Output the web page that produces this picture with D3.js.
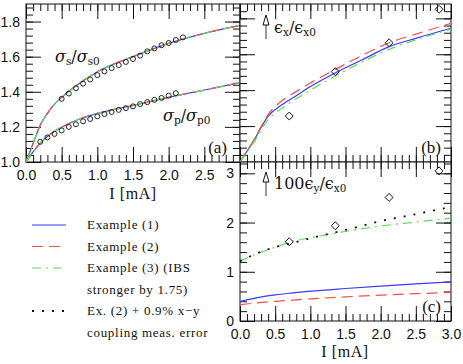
<!DOCTYPE html>
<html>
<head>
<meta charset="utf-8">
<script src="https://cdn.jsdelivr.net/npm/d3@7"></script>
<style>
  body { margin: 0; background: #fff; }
  svg { display: block; }
</style>
</head>
<body>
<div id="viz"></div>
<script>
(function() {
  // ---- panel (a): bunch length / energy spread growth ----
  var iA = [0, 0.1, 0.2, 0.3, 0.4, 0.5, 0.75, 1.0, 1.5, 2.0, 2.5, 3.0];
  var sigS = [1.0, 1.106, 1.211, 1.277, 1.330, 1.368, 1.448, 1.514, 1.600, 1.676, 1.733, 1.778];
  var sigP = [1.0, 1.058, 1.108, 1.145, 1.175, 1.198, 1.245, 1.277, 1.322, 1.368, 1.410, 1.452];

  var measSI = [0.5, 0.6, 0.7, 0.8, 0.9, 1.0, 1.1, 1.2, 1.3, 1.4, 1.5, 1.6, 1.7, 1.8, 1.9, 2.0, 2.1, 2.2];
  var measS = [1.360, 1.390, 1.420, 1.446, 1.470, 1.495, 1.516, 1.535, 1.552, 1.570, 1.587, 1.606, 1.630, 1.647, 1.665, 1.678, 1.695, 1.710];
  var measPI = [0.2, 0.3, 0.4, 0.5, 0.6, 0.7, 0.8, 0.9, 1.0, 1.1, 1.2, 1.3, 1.4, 1.5, 1.6, 1.7, 1.8, 1.9, 2.0, 2.1];
  var measP = [1.115, 1.140, 1.160, 1.180, 1.200, 1.215, 1.232, 1.245, 1.260, 1.273, 1.285, 1.297, 1.307, 1.317, 1.330, 1.341, 1.354, 1.365, 1.378, 1.392];

  // ---- panel (b): horizontal emittance ----
  var iB = [0, 0.2, 0.4, 0.6, 0.8, 1.0, 1.36, 1.73, 2.12, 2.5, 3.0];
  var exEx1 = [1.0, 1.153, 1.320, 1.400, 1.462, 1.525, 1.622, 1.710, 1.803, 1.861, 1.931];
  var exEx2 = [1.0, 1.155, 1.330, 1.428, 1.490, 1.550, 1.645, 1.740, 1.830, 1.890, 1.965];
  var exEx3 = [1.0, 1.140, 1.295, 1.375, 1.440, 1.500, 1.600, 1.695, 1.785, 1.850, 1.925];

  // ---- panel (c): vertical emittance ----
  var iC = [0, 0.25, 0.5, 0.75, 1.0, 1.5, 2.0, 2.5, 3.0];
  var eyEx1 = [0.40, 0.475, 0.53, 0.57, 0.605, 0.66, 0.71, 0.755, 0.795];
  var eyEx2 = [0.33, 0.37, 0.40, 0.425, 0.45, 0.49, 0.525, 0.555, 0.58];
  var eyEx3 = [1.215, 1.37, 1.50, 1.62, 1.69, 1.82, 1.93, 2.01, 2.09];
  var eyCoup = [1.215, 1.38, 1.50, 1.59, 1.68, 1.85, 2.03, 2.17, 2.32];

  var measEI = [0.70, 1.355, 2.12, 2.83];
  var measEx = [1.32, 1.629, 1.830, 2.063];
  var measEy = [1.61, 1.935, 2.51, 3.05];

  var legendLabels = ["Example (1)", "Example (2)", "Example (3) (IBS", "stronger by 1.75)", "Ex. (2) + 0.9% x\u2212y", "coupling meas. error"];
  // (a) stops at 2.5: its "3.0" is hidden under panel (c), whose "3" sits at the same spot
  var xTickLabelsA = ["0.0", "0.5", "1.0", "1.5", "2.0", "2.5", ""];
  var xTickLabelsC = ["0.0", "0.5", "1.0", "1.5", "2.0", "2.5", "3.0"];

  var blue = "#3a3aff", red = "#ff4a4a", green = "#55e055";
  var tickFont = "'Liberation Sans', Arial, sans-serif";
  var serif = "'DejaVu Serif', serif";
  var roman = "'Liberation Serif', 'Times New Roman', serif";

  var svg = d3.select("#viz").append("svg").attr("width", 463).attr("height", 364);

  var xA = d3.scaleLinear().domain([0, 3]).range([26, 240]);
  var yA = d3.scaleLinear().domain([1.0, 1.9]).range([162, 4]);
  var xB = d3.scaleLinear().domain([0, 3]).range([240, 451]);
  var yB = d3.scaleLinear().domain([1.0, 2.1]).range([162, 4]);
  var yC = d3.scaleLinear().domain([0, 3.23]).range([321, 162]);

  var xMajor = d3.range(0, 3.001, 0.5), xMinor = d3.range(0, 3.001, 0.1);

  var addAxis = function(g, axis, tx, ty, vals, len, fmt, pad) {
    var a = g.append("g").attr("transform", "translate(" + tx + "," + ty + ")")
      .call(axis.tickValues(vals).tickSize(-len).tickPadding(pad || 3)
        .tickFormat(fmt || function() { return ""; }));
    a.select(".domain").remove();
    a.selectAll("line").attr("stroke", "#111").attr("stroke-width", 1);
    a.selectAll("text").attr("font-family", tickFont).attr("font-size", 14).attr("fill", "#111");
    return a;
  };

  var frame = function(g, xs, ys, yMaj, yMin, opt) {
    var xr = xs.range(), yr = ys.range();
    var L = 15, l = 7;
    // bottom
    addAxis(g, d3.axisBottom(xs), 0, yr[0], xMinor, l);
    addAxis(g, d3.axisBottom(xs), 0, yr[0], xMajor, L, opt.xFmt, 8);
    // top
    addAxis(g, d3.axisTop(xs), 0, yr[1], xMinor, l);
    addAxis(g, d3.axisTop(xs), 0, yr[1], xMajor, L);
    // left
    addAxis(g, d3.axisLeft(ys), xr[0], 0, yMin, l);
    addAxis(g, d3.axisLeft(ys), xr[0], 0, yMaj, L, opt.yFmt, 6);
    // right
    addAxis(g, d3.axisRight(ys), xr[1], 0, yMin, l);
    addAxis(g, d3.axisRight(ys), xr[1], 0, yMaj, L);
    g.append("rect").attr("x", xr[0]).attr("y", yr[1])
      .attr("width", xr[1] - xr[0]).attr("height", yr[0] - yr[1])
      .attr("fill", "none").attr("stroke", "#111").attr("stroke-width", 1);
  };

  var drawLine = function(g, xs, ys, xv, yv, color, dash, width) {
    var pts = xv.map(function(d, i) { return [d, yv[i]]; });
    var line = d3.line().curve(d3.curveMonotoneX)
      .x(function(d) { return xs(d[0]); }).y(function(d) { return ys(d[1]); });
    g.append("path").attr("d", line(pts)).attr("fill", "none")
      .attr("stroke", color).attr("stroke-width", width || 1.2)
      .attr("stroke-dasharray", dash || null);
  };

  var dashRed = "11,6", dashGreen = "9,5,2,5", dashDot = "2,8";

  // ================= panel (a) =================
  var gA = svg.append("g");
  frame(gA, xA, yA, d3.range(1.0, 1.801, 0.2), d3.range(1.0, 1.881, 0.04), {
    xFmt: function(d) { return xTickLabelsA[Math.round(d * 2)]; },
    yFmt: d3.format(".1f")
  });
  [sigS, sigP].forEach(function(s) {
    drawLine(gA, xA, yA, iA, s, blue);
    drawLine(gA, xA, yA, iA, s, red, dashRed);
    drawLine(gA, xA, yA, iA, s, green, dashGreen);
  });
  gA.selectAll("circle.s").data(measSI).enter().append("circle")
    .attr("cx", function(d) { return xA(d); })
    .attr("cy", function(d, i) { return yA(measS[i]); })
    .attr("r", 2.5).attr("fill", "none").attr("stroke", "#111").attr("stroke-width", 0.9);
  gA.selectAll("circle.p").data(measPI).enter().append("circle")
    .attr("cx", function(d) { return xA(d); })
    .attr("cy", function(d, i) { return yA(measP[i]); })
    .attr("r", 2.5).attr("fill", "none").attr("stroke", "#111").attr("stroke-width", 0.9);

  var ratioLabel = function(g, x, y, sym, sub, sub0, italic) {
    var t = g.append("text").attr("x", x).attr("y", y).attr("font-family", serif).attr("fill", "#111");
    t.append("tspan").attr("font-size", 16).attr("font-style", italic ? "italic" : null).text(sym);
    t.append("tspan").attr("font-size", 10.5).attr("dy", 3).text(sub);
    t.append("tspan").attr("font-size", 16).attr("dy", -3).text("/");
    t.append("tspan").attr("font-size", 16).attr("font-style", italic ? "italic" : null).text(sym);
    t.append("tspan").attr("font-size", 10.5).attr("dy", 3).text(sub0);
    return t;
  };
  ratioLabel(gA, 55, 62, "\u03c3", "s", "s0", true);
  ratioLabel(gA, 163, 121, "\u03c3", "p", "p0", true);
  gA.append("text").attr("x", 227).attr("y", 153).attr("text-anchor", "end")
    .attr("font-family", roman).attr("font-size", 17).attr("fill", "#111").text("(a)");
  gA.append("text").attr("x", 133).attr("y", 199).attr("text-anchor", "middle")
    .attr("font-family", roman).attr("font-size", 16).attr("letter-spacing", 0.6)
    .attr("fill", "#111").text("I [mA]");

  // ================= panel (b) =================
  var gB = svg.append("g");
  gB.append("rect").attr("x", 240).attr("y", 4).attr("width", 211).attr("height", 158).attr("fill", "#fff");
  frame(gB, xB, yB, d3.range(1.0, 2.001, 0.25), d3.range(1.0, 2.051, 0.05), {});
  drawLine(gB, xB, yB, iB, exEx1, blue);
  drawLine(gB, xB, yB, iB, exEx2, red, dashRed);
  drawLine(gB, xB, yB, iB, exEx3, green, dashGreen);

  // ================= panel (c) =================
  var gC = svg.append("g");
  gC.append("rect").attr("x", 240).attr("y", 162).attr("width", 223).attr("height", 159).attr("fill", "#fff");
  frame(gC, xB, yC, [0, 1, 2, 3], d3.range(0, 3.21, 0.2), {
    xFmt: function(d) { return xTickLabelsC[Math.round(d * 2)]; },
    yFmt: d3.format("d")
  });
  drawLine(gC, xB, yC, iC, eyEx1, blue);
  drawLine(gC, xB, yC, iC, eyEx2, red, dashRed);
  drawLine(gC, xB, yC, iC, eyEx3, green, dashGreen);
  drawLine(gC, xB, yC, iC, eyCoup, "#111", dashDot, 1.8);

  var diamonds = function(g, ys, vals) {
    g.selectAll("path.dia").data(measEI).enter().append("path")
      .attr("d", d3.symbol().type(d3.symbolDiamond2).size(40))
      .attr("transform", function(d, i) { return "translate(" + xB(d) + "," + ys(vals[i]) + ")"; })
      .attr("fill", "none").attr("stroke", "#111").attr("stroke-width", 1);
  };
  diamonds(gB, yB, measEx);
  diamonds(gC, yC, measEy);

  var arrow = function(g, x, yTop) {
    g.append("line").attr("x1", x).attr("x2", x).attr("y1", yTop + 10).attr("y2", yTop + 24)
      .attr("stroke", "#777").attr("stroke-width", 1.5);
    g.append("path").attr("d", "M" + (x - 3) + "," + (yTop + 10) + "L" + x + "," + yTop + "L" + (x + 3) + "," + (yTop + 10) + "Z")
      .attr("fill", "#fff").attr("stroke", "#111").attr("stroke-width", 1);
  };
  arrow(gB, 266, 15);
  arrow(gC, 266, 172);

  var epsLabel = function(g, x, y, pre, sub) {
    var t = g.append("text").attr("x", x).attr("y", y).attr("font-family", serif).attr("fill", "#111");
    t.append("tspan").attr("font-size", 16).text(pre + "\u03f5");
    t.append("tspan").attr("font-size", 10.5).attr("dy", 3).text(sub);
    t.append("tspan").attr("font-size", 16).attr("dy", -3).text("/\u03f5");
    t.append("tspan").attr("font-size", 10.5).attr("dy", 3).text("x0");
  };
  epsLabel(gB, 274, 33, "", "x");
  epsLabel(gC, 274, 189, "100", "y");

  gB.append("text").attr("x", 441).attr("y", 153).attr("text-anchor", "end")
    .attr("font-family", roman).attr("font-size", 17).attr("fill", "#111").text("(b)");
  gC.append("text").attr("x", 441).attr("y", 312).attr("text-anchor", "end")
    .attr("font-family", roman).attr("font-size", 17).attr("fill", "#111").text("(c)");
  gC.append("text").attr("x", 345).attr("y", 357).attr("text-anchor", "middle")
    .attr("font-family", roman).attr("font-size", 16).attr("letter-spacing", 0.6)
    .attr("fill", "#111").text("I [mA]");

  // ================= legend =================
  var gL = svg.append("g");
  var rowY = [225, 246.5, 268, 289.5, 311, 332.5];
  var legendLines = [[0, blue, null, 1.2], [1, red, dashRed, 1.2], [2, green, dashGreen, 1.2], [4, "#111", dashDot, 1.8]];
  legendLines.forEach(function(d) {
    gL.append("line").attr("x1", 32).attr("x2", 66).attr("y1", rowY[d[0]]).attr("y2", rowY[d[0]])
      .attr("stroke", d[1]).attr("stroke-width", d[3]).attr("stroke-dasharray", d[2]);
  });
  gL.selectAll("text").data(legendLabels).enter().append("text")
    .attr("x", 87).attr("y", function(d, i) { return rowY[i] + 4; })
    .attr("font-family", roman).attr("font-size", 13).attr("letter-spacing", 0.7).attr("fill", "#111")
    .text(function(d) { return d; });
})();
</script>
</body>
</html>
